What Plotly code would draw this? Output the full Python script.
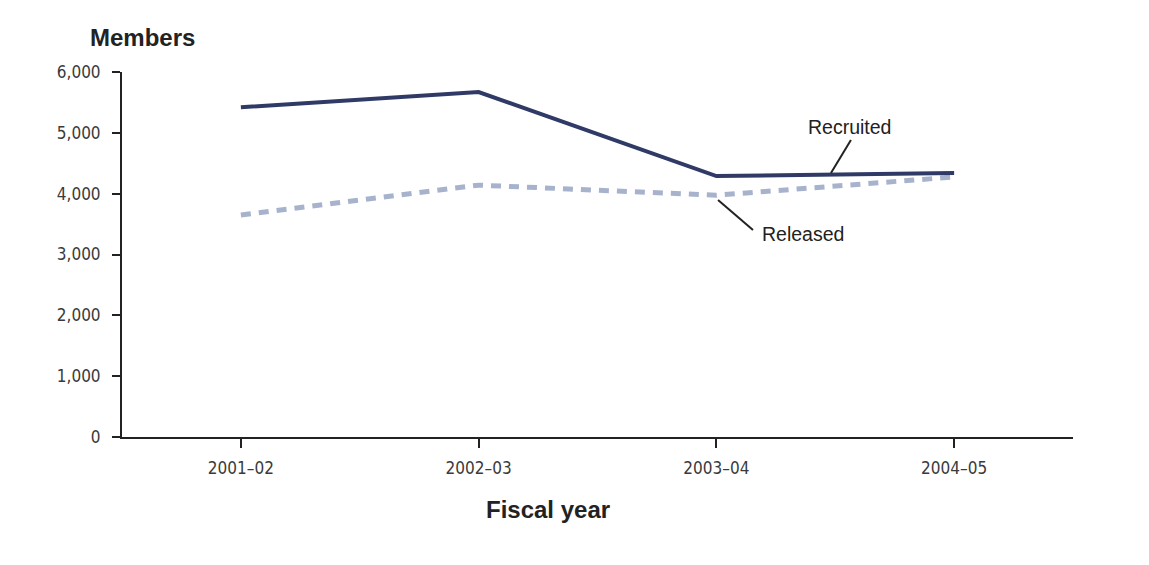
import plotly.graph_objects as go

years = ["2001–02", "2002–03", "2003–04", "2004–05"]
recruited = [5420, 5670, 4290, 4340]
released = [3650, 4140, 3975, 4275]
y_ticks = [0, 1000, 2000, 3000, 4000, 5000, 6000]
y_tick_labels = ["0", "1,000", "2,000", "3,000", "4,000", "5,000", "6,000"]

TICK_FONT = dict(family="Liberation Sans Narrow, DejaVu Sans Condensed, Arial Narrow, sans-serif", size=17, color="#3a3a3a")
LABEL_FONT = dict(family="Liberation Sans, Arial, sans-serif", size=19.5, color="#222222")
TITLE_FONT = dict(family="Liberation Sans, Arial, sans-serif", size=24, color="#222222")

fig = go.Figure()
fig.add_trace(go.Scatter(x=[0, 1, 2, 3], y=released, mode="lines", name="Released",
                         line=dict(color="#a7b3cd", width=5, dash="10px,8px")))
fig.add_trace(go.Scatter(x=[0, 1, 2, 3], y=recruited, mode="lines", name="Recruited",
                         line=dict(color="#2f3a66", width=4)))

fig.update_layout(
    width=1149, height=565,
    margin=dict(l=122, r=76, t=72, b=128),
    paper_bgcolor="white", plot_bgcolor="white",
    showlegend=False,
    xaxis=dict(range=[-0.5, 3.5], tickvals=[0, 1, 2, 3], ticktext=years,
               showgrid=False, zeroline=False, showline=True, linecolor="#222222", linewidth=2,
               ticks="outside", ticklen=9, tickwidth=2, tickcolor="#222222",
               tickfont=TICK_FONT, ticklabelstandoff=6),
    yaxis=dict(range=[0, 6000], tickvals=y_ticks, ticktext=y_tick_labels,
               showgrid=False, zeroline=False, showline=True, linecolor="#222222", linewidth=2,
               ticks="outside", ticklen=8, tickwidth=2, tickcolor="#222222",
               tickfont=TICK_FONT, ticklabelstandoff=8),
)

fig.add_annotation(text="<b>Members</b>", xref="paper", yref="paper",
                   x=-0.036, y=(437 - 37.5) / 365, xanchor="left", yanchor="middle",
                   showarrow=False, font=TITLE_FONT)
fig.add_annotation(text="<b>Fiscal year</b>", xref="paper", yref="paper",
                   x=(548 - 122) / 951, y=(437 - 509) / 365, xanchor="center", yanchor="middle",
                   showarrow=False, font=TITLE_FONT)
fig.add_annotation(text="Recruited", xref="x", yref="y", x=2.558, y=5096,
                   xanchor="center", yanchor="middle", showarrow=False, font=LABEL_FONT)
fig.add_annotation(text="Released", xref="x", yref="y", x=2.364, y=3337,
                   xanchor="center", yanchor="middle", showarrow=False, font=LABEL_FONT)
fig.add_shape(type="line", xref="x", yref="y", x0=2.566, y0=4882, x1=2.482, y1=4340,
              line=dict(color="#222222", width=2))
fig.add_shape(type="line", xref="x", yref="y", x0=2.007, y0=3896, x1=2.154, y1=3403,
              line=dict(color="#222222", width=2))

fig.write_html("out.html")
